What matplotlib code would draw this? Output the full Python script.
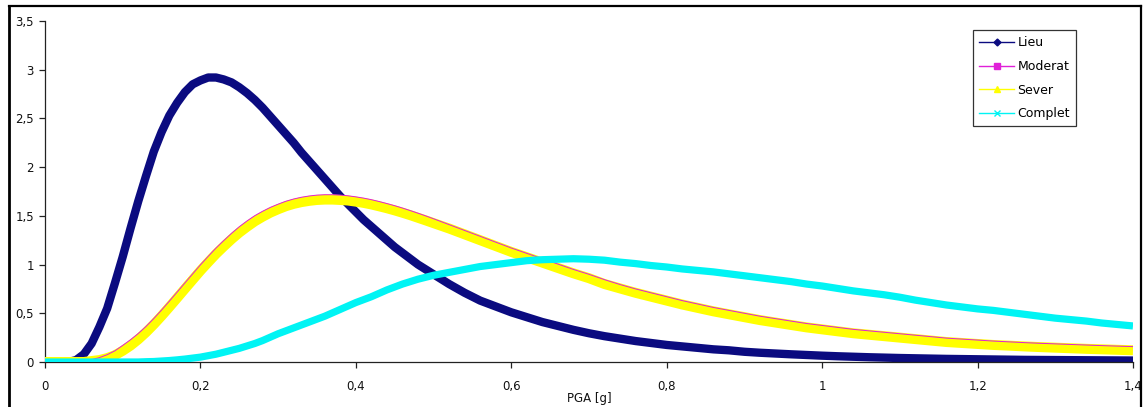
import matplotlib
matplotlib.use("Agg")
import matplotlib.pyplot as plt
from matplotlib.lines import Line2D

# ---------------- data ----------------
# PGA sample points: 0.00..0.50 every 0.01, then 0.52..1.40 every 0.02
pga = [round(0.01 * i, 2) for i in range(51)] + [round(0.52 + 0.02 * i, 2) for i in range(45)]

lieu = [0, 0, 0, 0, 0.02, 0.08, 0.19, 0.36, 0.55, 0.81,
        1.08, 1.37, 1.65, 1.91, 2.16, 2.36, 2.53, 2.66, 2.77, 2.85,
        2.89, 2.92, 2.92, 2.90, 2.87, 2.82, 2.76, 2.69, 2.61, 2.52,
        2.43, 2.34, 2.25, 2.15, 2.06, 1.97, 1.88, 1.79, 1.70, 1.62,
        1.54, 1.46, 1.39, 1.32, 1.25, 1.18, 1.12, 1.06, 1.00, 0.95,
        0.90,
        0.80, 0.71, 0.63, 0.57, 0.51, 0.46, 0.41, 0.37, 0.33, 0.295,
        0.265, 0.24, 0.215, 0.195, 0.175, 0.16, 0.145, 0.13, 0.12, 0.105,
        0.095, 0.087, 0.079, 0.072, 0.065, 0.059, 0.054, 0.049, 0.045, 0.041,
        0.038, 0.035, 0.032, 0.030, 0.028, 0.026, 0.024, 0.022, 0.021, 0.020,
        0.019, 0.018, 0.017, 0.016, 0.015]

moderat = [0, 0, 0, 0, 0, 0.005, 0.025, 0.045, 0.075, 0.115,
           0.17, 0.228, 0.292, 0.365, 0.446, 0.533, 0.624, 0.717, 0.811, 0.904,
           0.997, 1.084, 1.169, 1.246, 1.320, 1.388, 1.448, 1.502, 1.547, 1.587,
           1.620, 1.650, 1.673, 1.691, 1.704, 1.713, 1.717, 1.717, 1.713, 1.706,
           1.695, 1.682, 1.666, 1.647, 1.626, 1.604, 1.580, 1.554, 1.527, 1.499,
           1.470,
           1.41, 1.35, 1.29, 1.23, 1.17, 1.115, 1.06, 1.005, 0.95, 0.90,
           0.845, 0.795, 0.75, 0.71, 0.67, 0.63, 0.595, 0.56, 0.53, 0.50,
           0.47, 0.445, 0.42, 0.395, 0.375, 0.355, 0.335, 0.32, 0.305, 0.29,
           0.275, 0.26, 0.245, 0.235, 0.225, 0.215, 0.207, 0.199, 0.192, 0.186,
           0.18, 0.174, 0.168, 0.163, 0.158]

sever = [0, 0, 0, 0, 0, 0, 0.01, 0.02, 0.04, 0.07,
         0.115, 0.168, 0.232, 0.305, 0.386, 0.473, 0.564, 0.657, 0.751, 0.844,
         0.937, 1.024, 1.109, 1.186, 1.260, 1.328, 1.388, 1.444, 1.491, 1.533,
         1.568, 1.599, 1.623, 1.641, 1.654, 1.663, 1.667, 1.667, 1.663, 1.657,
         1.646, 1.633, 1.617, 1.598, 1.578, 1.556, 1.532, 1.507, 1.480, 1.453,
         1.425,
         1.37, 1.31, 1.25, 1.19, 1.13, 1.075, 1.02, 0.965, 0.91, 0.86,
         0.80, 0.755, 0.71, 0.67, 0.63, 0.59, 0.555, 0.52, 0.49, 0.46,
         0.43, 0.405, 0.38, 0.355, 0.335, 0.315, 0.295, 0.28, 0.265, 0.25,
         0.235, 0.22, 0.205, 0.195, 0.185, 0.175, 0.168, 0.16, 0.153, 0.147,
         0.141, 0.135, 0.13, 0.125, 0.12]

complet = [0, 0, 0, 0, 0, 0, 0, 0, 0, 0,
           0, 0, 0, 0.003, 0.005, 0.01, 0.015, 0.022, 0.03, 0.04,
           0.05, 0.065, 0.08, 0.10, 0.12, 0.14, 0.165, 0.19, 0.22, 0.255,
           0.29, 0.32, 0.35, 0.38, 0.41, 0.44, 0.47, 0.505, 0.54, 0.575,
           0.61, 0.64, 0.67, 0.705, 0.74, 0.77, 0.80, 0.825, 0.85, 0.87,
           0.89,
           0.92, 0.95, 0.98, 1.00, 1.02, 1.04, 1.05, 1.055, 1.06, 1.055,
           1.045, 1.025, 1.01, 0.99, 0.975, 0.955, 0.94, 0.925, 0.905, 0.885,
           0.865, 0.845, 0.825, 0.80, 0.78, 0.755, 0.73, 0.71, 0.69, 0.665,
           0.635, 0.61, 0.585, 0.565, 0.545, 0.53, 0.51, 0.49, 0.47, 0.45,
           0.435, 0.42, 0.40, 0.385, 0.37]

series_names = ["Lieu", "Moderat", "Sever", "Complet"]
x_ticks = [0, 0.2, 0.4, 0.6, 0.8, 1.0, 1.2, 1.4]
x_tick_labels = ["0", "0,2", "0,4", "0,6", "0,8", "1", "1,2", "1,4"]
y_ticks = [0, 0.5, 1, 1.5, 2, 2.5, 3, 3.5]
y_tick_labels = ["0", "0,5", "1", "1,5", "2", "2,5", "3", "3,5"]
x_label = "PGA [g]"

# ---------------- figure ----------------
plt.rcParams['font.family'] = ['DejaVu Sans']
W, H = 1144, 407
fig = plt.figure(figsize=(W / 100, H / 100), dpi=100)
ax = fig.add_axes([45 / W, 1 - 362 / H, (1133 - 45) / W, (362 - 21) / H])

navy = "#0b0b80"
mag = "#e020d8"
yel = "#ffff00"
cya = "#00f4f4"

ax.plot(pga, lieu, color=navy, lw=6.0, solid_capstyle='butt', solid_joinstyle='round', zorder=2)
ax.plot(pga, sever, color=yel, lw=7.2, solid_capstyle='butt', solid_joinstyle='round', zorder=3)
ax.plot(pga, moderat, color=mag, lw=0.7, zorder=4)
ax.plot(pga, complet, color=cya, lw=5.2, solid_capstyle='butt', solid_joinstyle='round', zorder=5)

ax.set_xlim(0, 1.4)
ax.set_ylim(0, 3.5)
ax.set_xticks(x_ticks)
ax.set_xticklabels(x_tick_labels)
ax.set_yticks(y_ticks)
ax.set_yticklabels(y_tick_labels)
for s in ["top", "right"]:
    ax.spines[s].set_visible(False)
for s in ["left", "bottom"]:
    ax.spines[s].set_color("#222222")
    ax.spines[s].set_linewidth(0.9)
ax.tick_params(axis='both', direction='out', length=4, width=0.9,
               colors="#222222", labelsize=8.5, labelcolor="#111111")
ax.tick_params(axis='x', pad=9)
ax.tick_params(axis='y', pad=4)
ax.set_xlabel(x_label, fontsize=8.5, color="#111111", labelpad=-1)
ax.patch.set_visible(False)

handles = [
    Line2D([], [], color=navy, lw=1, marker='D', markersize=3.5),
    Line2D([], [], color=mag, lw=1, marker='s', markersize=4),
    Line2D([], [], color=yel, lw=1, marker='^', markersize=5),
    Line2D([], [], color=cya, lw=1, marker='x', markersize=4),
]
leg = fig.legend(handles, series_names, loc='upper left',
                 bbox_to_anchor=(973 / W, 1 - 30 / H),
                 frameon=True, fancybox=False, edgecolor='black',
                 fontsize=9, handlelength=2.8, handletextpad=0.25,
                 labelspacing=0.85, borderpad=0.5, borderaxespad=0)
leg.get_frame().set_linewidth(0.9)

# outer chart frame
fig.add_artist(Line2D([9 / W, 9 / W], [0, 1 - 6 / H], color='black', lw=2.0,
                      transform=fig.transFigure))
fig.add_artist(Line2D([9 / W, 1141 / W], [1 - 6 / H, 1 - 6 / H], color='black', lw=1.6,
                      transform=fig.transFigure))
fig.add_artist(Line2D([1141 / W, 1141 / W], [0, 1 - 6 / H], color='black', lw=1.6,
                      transform=fig.transFigure))

fig.savefig("out.png", dpi=100)
